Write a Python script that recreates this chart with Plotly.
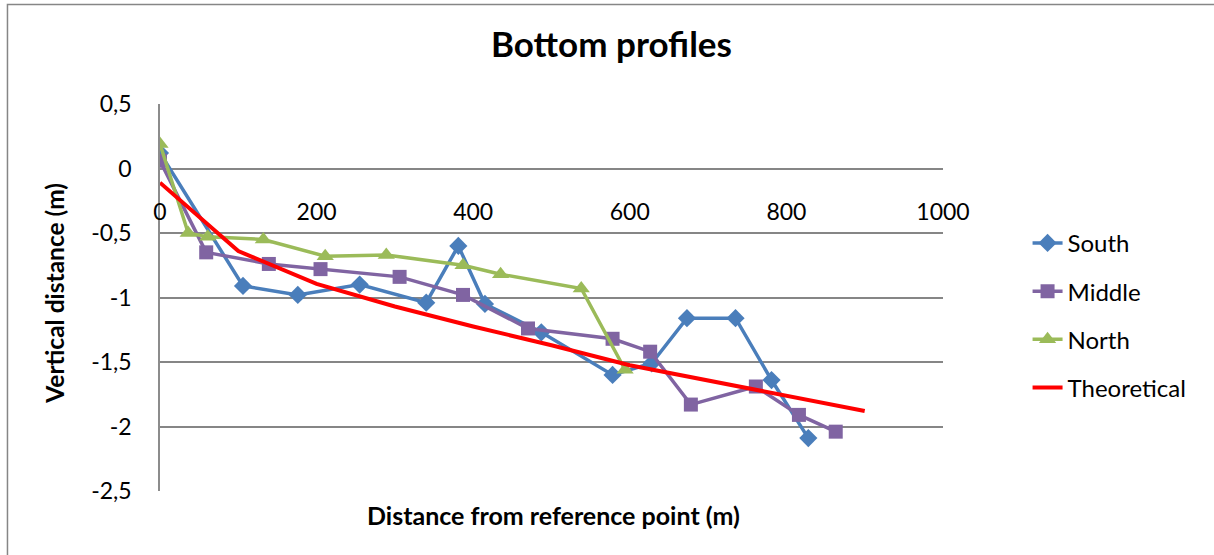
import plotly.graph_objects as go

# Measured bottom profiles along three transects plus the theoretical profile
south_x = [0, 106, 176, 255, 340, 381, 415, 487, 578, 628, 673, 735, 781, 828]
south_y = [0.12, -0.91, -0.98, -0.90, -1.04, -0.60, -1.05, -1.27, -1.60, -1.51, -1.16, -1.16, -1.64, -2.09]

middle_x = [0, 59, 139, 205, 306, 387, 470, 578, 626, 678, 761, 816, 863]
middle_y = [0.06, -0.65, -0.74, -0.78, -0.84, -0.98, -1.24, -1.32, -1.42, -1.83, -1.69, -1.91, -2.04]

north_x = [0, 36, 61, 132, 211, 289, 387, 435, 538, 594]
north_y = [0.19, -0.50, -0.53, -0.55, -0.68, -0.67, -0.75, -0.82, -0.93, -1.56]

theory_x = [0, 100, 200, 300, 400, 500, 600, 700, 800, 900]
theory_y = [-0.11, -0.64, -0.895, -1.07, -1.225, -1.37, -1.525, -1.645, -1.765, -1.88]

x_ticks = [0, 200, 400, 600, 800, 1000]
x_tick_text = ["0", "200", "400", "600", "800", "1000"]
y_ticks = [0.5, 0, -0.5, -1, -1.5, -2, -2.5]
y_tick_text = ["0,5", "0", "-0,5", "-1", "-1,5", "-2", "-2,5"]

FONT = "Lato"
GRID = "#868686"

fig = go.Figure()
fig.add_trace(go.Scatter(
    x=south_x, y=south_y, name="South", mode="lines+markers", legendgroup="s",
    line=dict(color="#4A7EBB", width=3.5),
    marker=dict(symbol="diamond", size=14, color="#4A7EBB")))
fig.add_trace(go.Scatter(
    x=middle_x, y=middle_y, name="Middle", mode="lines+markers", legendgroup="m",
    line=dict(color="#8064A2", width=3.5),
    marker=dict(symbol="square", size=14, color="#8064A2")))
fig.add_trace(go.Scatter(
    x=north_x, y=north_y, name="North", mode="lines+markers", legendgroup="n",
    line=dict(color="#9BBB59", width=3.5),
    marker=dict(symbol="triangle-up", size=15, color="#9BBB59")))
fig.add_trace(go.Scatter(
    x=theory_x, y=theory_y, name="Theoretical", mode="lines", legendgroup="t",
    line=dict(color="#FF0000", width=4)))

fig.update_layout(
    width=1214, height=555,
    margin=dict(l=160, r=271, t=104, b=64),
    paper_bgcolor="white", plot_bgcolor="white",
    font=dict(family=FONT, size=23, color="black"),
    title=dict(text="<b>Bottom profiles</b>", x=0.5037, xanchor="center",
               y=1 - 45 / 555, yanchor="middle",
               font=dict(family=FONT, size=35, color="black")),
    xaxis=dict(range=[0, 1000], tickvals=x_ticks, ticktext=x_tick_text,
               anchor="free", position=0.762, showline=False, showgrid=False,
               zeroline=False, ticks="", tickfont=dict(size=23)),
    yaxis=dict(range=[-2.5, 0.5], tickvals=y_ticks, ticktext=y_tick_text,
               showgrid=True, gridcolor=GRID, gridwidth=1.5, zeroline=False,
               showline=True, linecolor="#8C8C8C", linewidth=1.5,
               ticks="", ticklabelstandoff=22, tickfont=dict(size=23)),
    legend=dict(x=1.108, y=0.698, xanchor="left", yanchor="top",
                traceorder="grouped", tracegroupgap=14,
                font=dict(family=FONT, size=24), bgcolor="rgba(0,0,0,0)"),
    showlegend=True,
    annotations=[
        dict(text="<b>Distance from reference point (m)</b>", xref="paper", yref="paper",
             x=0.502, y=-0.062, xanchor="center", yanchor="middle", showarrow=False,
             font=dict(family=FONT, size=25)),
        dict(text="<b>Vertical distance (m)</b>", xref="paper", yref="paper",
             x=-0.134, y=0.51, xanchor="center", yanchor="middle", showarrow=False,
             textangle=-90, font=dict(family=FONT, size=24.5)),
    ],
    shapes=[
        dict(type="rect", xref="paper", yref="paper",
             x0=-0.1948, x1=1.4, y0=-0.4, y1=1.257,
             line=dict(color=GRID, width=1.5), fillcolor="rgba(0,0,0,0)", layer="below"),
    ],
)

fig.write_html("out.html")
